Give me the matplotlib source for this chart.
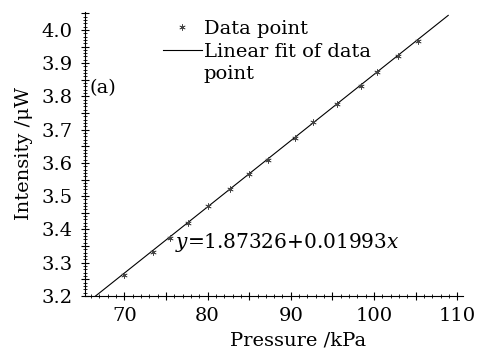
import matplotlib
matplotlib.use("Agg")
import matplotlib.pyplot as plt
import numpy as np
from matplotlib.ticker import MultipleLocator, FuncFormatter

pressure = [70.0, 73.4, 75.5, 77.6, 80.0, 82.7, 85.0, 87.2, 90.5, 92.7, 95.6, 98.4, 100.4, 102.9, 105.3]
intensity = [3.263, 3.332, 3.374, 3.420, 3.471, 3.520, 3.566, 3.608, 3.674, 3.722, 3.777, 3.830, 3.874, 3.922, 3.966]
fit_intercept = 1.87326
fit_slope = 0.01993
fit_range = [65.0, 108.9]

plt.rcParams['font.family'] = ['DejaVu Serif']
plt.rcParams['mathtext.fontset'] = 'dejavuserif'

FS = 14

fig = plt.figure(figsize=(4.81, 3.51), dpi=100)
ax = fig.add_axes([0.177, 0.157, 0.786, 0.809])

xf = np.array(fit_range)
ax.plot(xf, fit_intercept + fit_slope * xf, color='black', lw=0.8, label='Linear fit of data')
ax.plot(pressure, intensity, linestyle='none', marker=(6, 2, 0), ms=4.5, mew=0.5,
        color='#444444', label='Data point')

ax.set_xlim(65.3, 110.7)
ax.set_ylim(3.2, 4.054)

for s in ['top', 'right']:
    ax.spines[s].set_visible(False)
for s in ['left', 'bottom']:
    ax.spines[s].set_linewidth(0.8)

ax.xaxis.set_major_locator(MultipleLocator(5))
ax.xaxis.set_minor_locator(MultipleLocator(1))
ax.yaxis.set_major_locator(MultipleLocator(0.05))
ax.yaxis.set_minor_locator(MultipleLocator(0.01))
ax.xaxis.set_major_formatter(FuncFormatter(lambda v, p: f"{v:.0f}" if abs(v % 10) < 1e-6 or abs(v % 10 - 10) < 1e-6 else ""))
ax.yaxis.set_major_formatter(FuncFormatter(lambda v, p: f"{v:.1f}" if abs(round(v * 10) - v * 10) < 1e-6 else ""))
ax.tick_params(which='major', direction='inout', length=6, width=0.8, labelsize=FS)
ax.tick_params(axis='x', which='major', pad=5)
ax.tick_params(axis='y', which='major', pad=6)
ax.tick_params(which='minor', direction='inout', length=2.5, width=0.6)

ax.set_xlabel('Pressure /kPa', fontsize=FS)
ax.xaxis.set_label_coords(0.563, -0.125)
ax.set_ylabel('Intensity /μW', fontsize=FS, labelpad=6)

handles, labels = ax.get_legend_handles_labels()
leg = ax.legend(handles[::-1], labels[::-1], loc='upper left', bbox_to_anchor=(0.185, 1.0),
                frameon=False, fontsize=FS, handlelength=2.0, handletextpad=0.1,
                labelspacing=0.25, borderaxespad=0.0)
ax.text(0.312, 0.781, 'point', transform=ax.transAxes, fontsize=FS, va='center', ha='left')

ax.text(0.012, 3.826, '(a)', transform=ax.get_yaxis_transform(), fontsize=FS, va='center', ha='left')
ax.text(76.1, 3.36, r'$y$=1.87326+0.01993$x$', fontsize=FS + 0.5, va='center', ha='left')

fig.savefig('out.png', dpi=100)
